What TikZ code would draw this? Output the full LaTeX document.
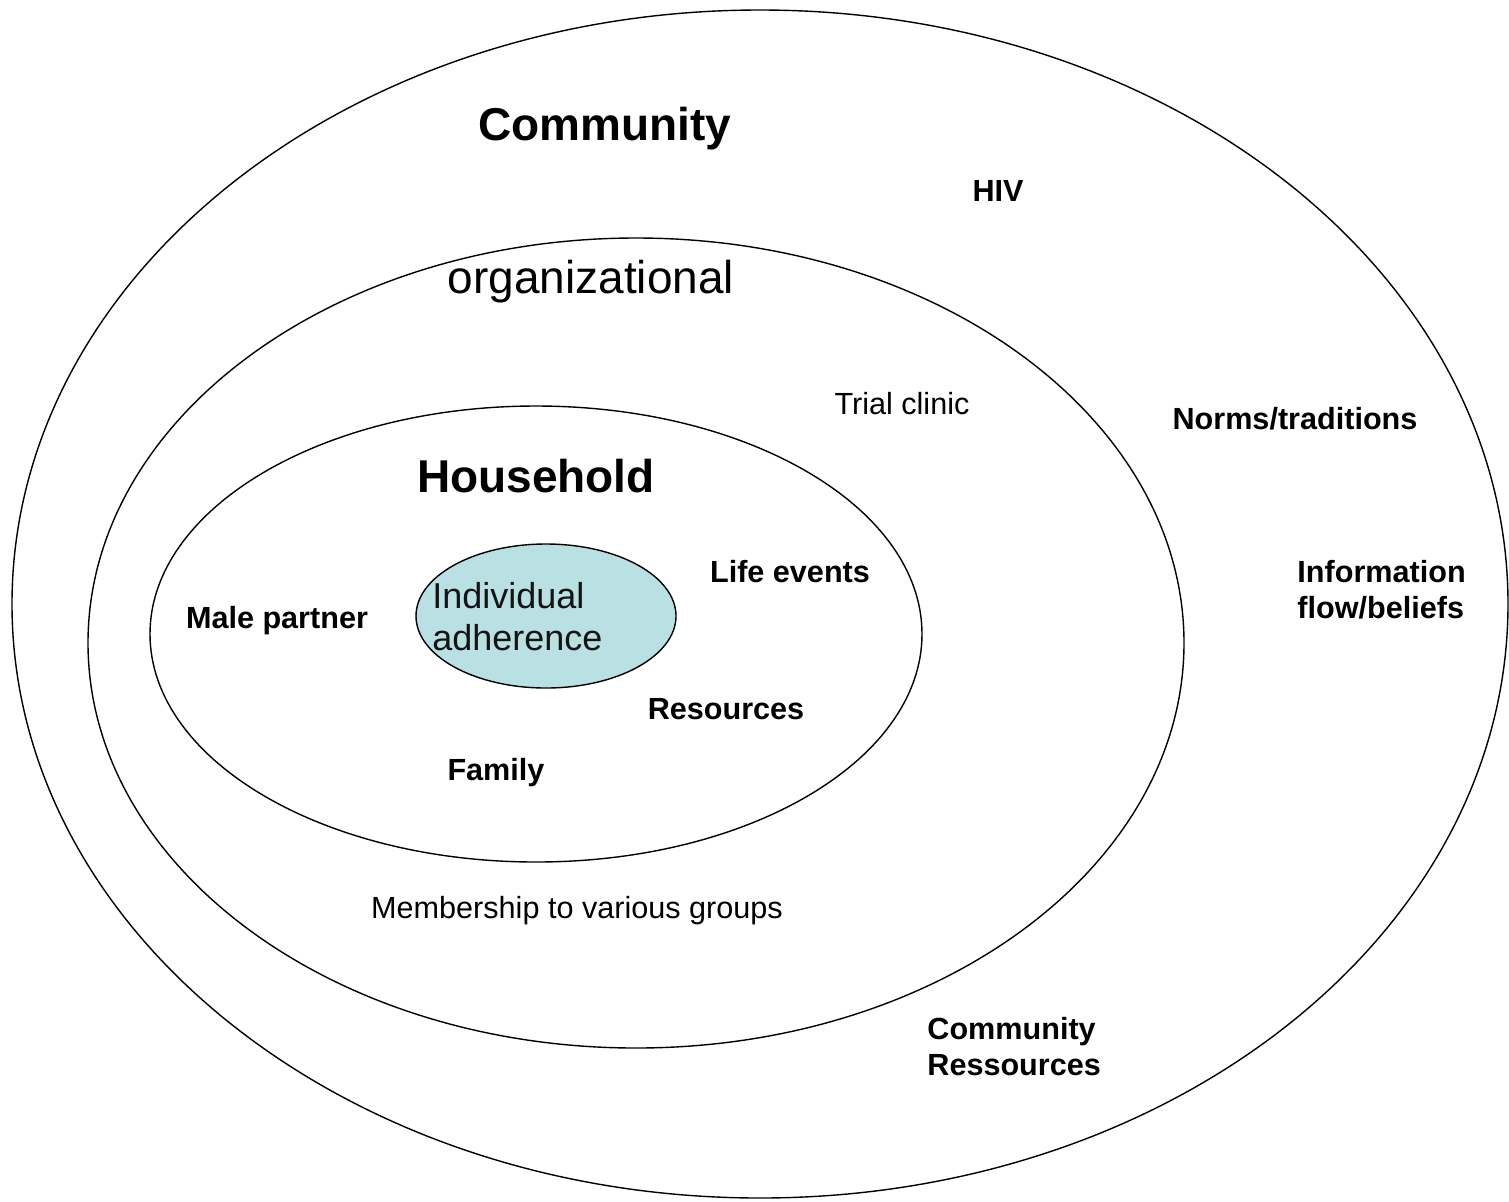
\documentclass[tikz,border=0pt]{standalone}
\usepackage{fontspec}
\setmainfont{Liberation Sans}
\usetikzlibrary{shapes.geometric}
\definecolor{indfill}{HTML}{B9E0E2}
\tikzset{
  ring/.style={draw=black, line width=0.7pt, ellipse, inner sep=0pt},
  big/.style={font=\fontsize{23}{27}\selectfont\bfseries, inner sep=0pt},
  bigreg/.style={font=\fontsize{23}{27}\selectfont, inner sep=0pt},
  lbl/.style={font=\fontsize{15.3}{18}\selectfont\bfseries, inner sep=0pt},
  lblreg/.style={font=\fontsize{15.3}{18}\selectfont, inner sep=0pt},
}
\begin{document}
\begin{tikzpicture}[x=0.5pt, y=-0.5pt]
\useasboundingbox (0,0) rectangle (1509,1201);
\node[ring, minimum width=748pt, minimum height=594pt] (community) at (760,604) {};
\node[ring, minimum width=548pt, minimum height=405pt] (org) at (636,643) {};
\node[ring, minimum width=386pt, minimum height=228pt] (household) at (536,634) {};
\node[ring, fill=indfill, minimum width=130pt, minimum height=72pt] (indiv) at (546,616) {};

\node[big] (tcomm) at (605,129) {Community};
\node[lbl] (thiv) at (998,191) {HIV};
\node[bigreg] (torg) at (591,282) {organizational};
\node[lblreg] (ttrial) at (902,404) {Trial clinic};
\node[lbl] (tnorms) at (1295,419) {Norms/traditions};
\node[big] (thouse) at (536,476) {Household};
\node[lbl] (tlife) at (790,572) {Life events};
\node[lbl] (tmale) at (277,621) {Male partner};
\node[font=\fontsize{18}{21}\selectfont, inner sep=0pt, align=left, anchor=west, text=black!92] (tind) at (432,617) {Individual\\adherence};
\node[lbl] (tres) at (726,709) {Resources};
\node[lbl] (tfam) at (496,773) {Family};
\node[lbl, align=left, anchor=west] (tinfo) at (1297,590) {Information\\flow/beliefs};
\node[lblreg] (tmember) at (577,911) {Membership to various groups};
\node[lbl, align=left, anchor=west] (tcres) at (927,1047) {Community\\Ressources};
\end{tikzpicture}
\end{document}
